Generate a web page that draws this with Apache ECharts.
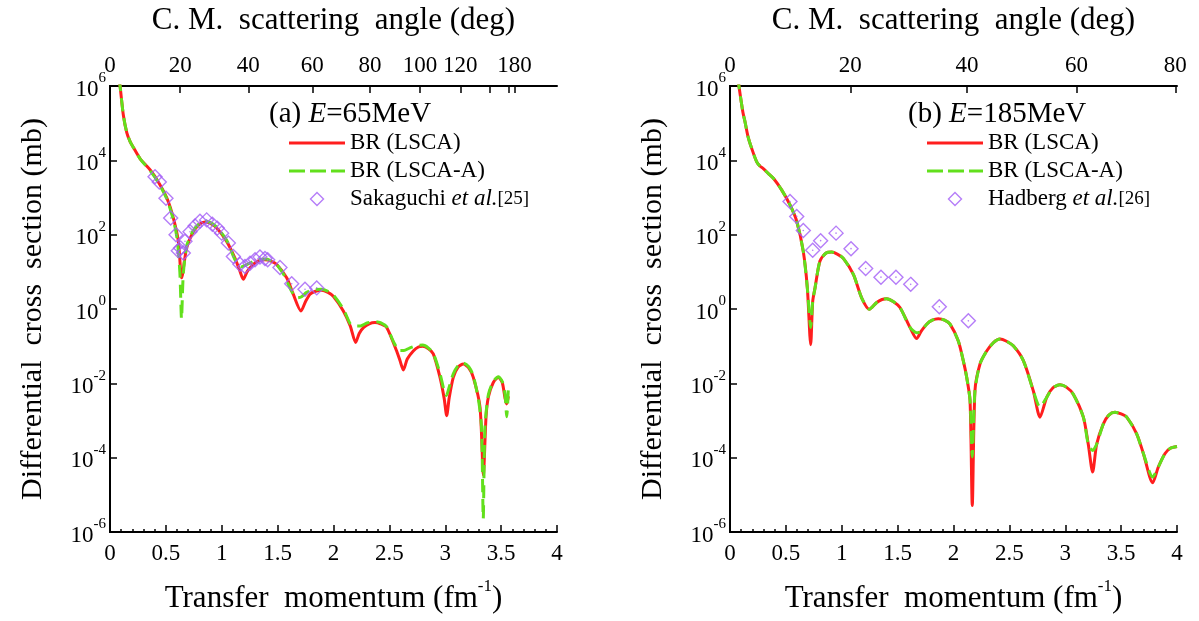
<!DOCTYPE html>
<html>
<head>
<meta charset="utf-8">
<script src="https://cdn.jsdelivr.net/npm/echarts@6/dist/echarts.min.js"></script>
<style>
  html, body { margin: 0; padding: 0; background: #fff; }
  #chart { width: 1199px; height: 621px; }
</style>
</head>
<body>
<div id="chart"></div>
<script>
// (a) 65 MeV -- transfer momentum (fm^-1) and cross section (mb)
var qLscaA = [0.08, 0.09, 0.12, 0.15, 0.18, 0.21, 0.27, 0.36, 0.43, 0.51, 0.567, 0.612, 0.641, 0.686, 0.746, 0.80, 0.85, 0.90, 0.955, 1.044, 1.119, 1.16, 1.193, 1.23, 1.283, 1.33, 1.387, 1.44, 1.49, 1.581, 1.64, 1.709, 1.75, 1.79, 1.84, 1.894, 1.95, 1.998, 2.088, 2.15, 2.198, 2.23, 2.27, 2.32, 2.371, 2.42, 2.476, 2.565, 2.595, 2.625, 2.66, 2.714, 2.76, 2.798, 2.85, 2.893, 2.953, 2.99, 3.013, 3.035, 3.072, 3.115, 3.162, 3.21, 3.251, 3.311, 3.341, 3.365, 3.386, 3.43, 3.475, 3.51, 3.535, 3.55, 3.565];
var lscaA = [1.6e6, 1.0e6, 1.6e5, 5.6e4, 3.2e4, 2.2e4, 1.1e4, 5.5e3, 2.7e3, 9.5e2, 2.8e2, 66, 6.9, 44, 1.2e2, 1.9e2, 2.2e2, 2.0e2, 1.5e2, 66, 23, 11, 6.3, 10.5, 16, 20, 21, 19.5, 16, 6.9, 2.5, 0.89, 1.6, 2.5, 3.0, 3.2, 2.8, 2.2, 0.89, 0.35, 0.126, 0.22, 0.32, 0.40, 0.43, 0.40, 0.32, 0.074, 0.041, 0.023, 0.045, 0.074, 0.095, 0.10, 0.085, 0.062, 0.0145, 0.004, 0.00135, 0.004, 0.0145, 0.0275, 0.033, 0.026, 0.0145, 0.0023, 3.4e-5, 0.00126, 0.0043, 0.0105, 0.0145, 0.0105, 0.004, 0.0028, 0.0045];

var qLscaAA = [0.08, 0.09, 0.12, 0.15, 0.18, 0.21, 0.27, 0.36, 0.43, 0.51, 0.567, 0.60, 0.625, 0.64, 0.655, 0.686, 0.746, 0.80, 0.85, 0.90, 0.955, 1.044, 1.10, 1.14, 1.17, 1.21, 1.283, 1.33, 1.387, 1.44, 1.49, 1.56, 1.62, 1.67, 1.71, 1.76, 1.82, 1.894, 1.95, 1.998, 2.088, 2.15, 2.19, 2.24, 2.30, 2.371, 2.42, 2.476, 2.54, 2.59, 2.63, 2.68, 2.75, 2.798, 2.85, 2.893, 2.95, 2.99, 3.01, 3.035, 3.072, 3.115, 3.162, 3.21, 3.251, 3.30, 3.325, 3.34, 3.355, 3.386, 3.43, 3.475, 3.51, 3.535, 3.55, 3.565];
var lscaAA = [1.6e6, 1.0e6, 1.6e5, 5.6e4, 3.2e4, 2.2e4, 1.1e4, 5.2e3, 2.6e3, 8.9e2, 2.5e2, 79, 10, 0.54, 7.9, 50, 1.3e2, 2.0e2, 2.3e2, 2.1e2, 1.6e2, 71, 28, 16, 13.5, 15, 19, 21, 22, 20, 16, 7.9, 3.2, 2.0, 2.1, 2.8, 3.3, 3.4, 3.0, 2.4, 1.0, 0.40, 0.35, 0.35, 0.42, 0.46, 0.43, 0.33, 0.126, 0.076, 0.076, 0.089, 0.105, 0.107, 0.089, 0.063, 0.02, 0.0063, 0.0047, 0.0079, 0.018, 0.030, 0.035, 0.028, 0.016, 0.0032, 6.3e-4, 2.3e-6, 6.3e-4, 0.005, 0.0112, 0.015, 0.0112, 0.005, 0.00126, 0.0079];

var qSakaguchi = [0.403, 0.441, 0.501, 0.543, 0.591, 0.611, 0.632, 0.656, 0.671, 0.716, 0.761, 0.805, 0.865, 0.916, 0.96, 0.999, 1.059, 1.104, 1.163, 1.208, 1.253, 1.298, 1.342, 1.387, 1.411, 1.521, 1.626, 1.745, 1.85];
var sakaguchi = [3.6e3, 2.6e3, 9.5e2, 2.8e2, 1.0e2, 37, 44, 32, 66, 1.2e2, 1.7e2, 2.3e2, 2.5e2, 1.9e2, 1.5e2, 1.1e2, 60, 26, 16, 14, 17, 21, 25, 23, 21, 13, 4.8, 3.4, 3.7];

// (b) 185 MeV
var qB = [0.07, 0.08, 0.115, 0.134, 0.16, 0.194, 0.239, 0.27, 0.298, 0.34, 0.388, 0.462, 0.537, 0.597, 0.656, 0.692, 0.722, 0.74, 0.761, 0.805, 0.86, 0.91, 0.96, 1.014, 1.104, 1.178, 1.247, 1.313, 1.36, 1.402, 1.46, 1.521, 1.611, 1.67, 1.71, 1.76, 1.81, 1.864, 1.92, 1.969, 2.043, 2.088, 2.118, 2.148, 2.168, 2.192, 2.237, 2.297, 2.36, 2.416, 2.47, 2.535, 2.625, 2.714, 2.774, 2.834, 2.89, 2.953, 3.01, 3.072, 3.162, 3.206, 3.245, 3.281, 3.341, 3.39, 3.445, 3.50, 3.55, 3.639, 3.699, 3.782, 3.833, 3.893, 3.94, 4.0];
var lscaB = [1.8e6, 1.0e6, 2.0e5, 1.1e5, 4.5e4, 2.1e4, 9.1e3, 6.9e3, 6.0e3, 4.5e3, 3.3e3, 1.6e3, 6.3e2, 2.3e2, 35, 3.7, 0.11, 1.6, 3.7, 19.5, 32, 34, 30, 23, 8.5, 2.0, 0.98, 1.5, 1.8, 1.9, 1.6, 1.1, 0.32, 0.16, 0.25, 0.39, 0.50, 0.55, 0.50, 0.39, 0.138, 0.04, 0.0145, 0.0035, 5.2e-6, 0.0063, 0.033, 0.074, 0.126, 0.155, 0.138, 0.102, 0.041, 0.0063, 0.00123, 0.0042, 0.0076, 0.0091, 0.0079, 0.0051, 0.00123, 2.3e-4, 4.1e-5, 2.3e-4, 8.1e-4, 0.0014, 0.00166, 0.0015, 0.00123, 4.4e-4, 1.3e-4, 2.1e-5, 5.6e-5, 1.3e-4, 1.8e-4, 2.0e-4];
var lscaAB = [1.8e6, 1.0e6, 2.0e5, 1.1e5, 4.5e4, 2.1e4, 9.1e3, 6.9e3, 6.0e3, 4.5e3, 3.3e3, 1.6e3, 6.3e2, 2.3e2, 35, 3.7, 0.32, 1.6, 3.7, 19.5, 32, 34, 30, 23, 8.5, 2.0, 0.98, 1.5, 1.8, 1.9, 1.6, 1.1, 0.32, 0.23, 0.25, 0.39, 0.50, 0.55, 0.50, 0.39, 0.138, 0.04, 0.0145, 0.0035, 1.05e-4, 0.0063, 0.033, 0.074, 0.126, 0.155, 0.138, 0.102, 0.041, 0.0063, 0.0023, 0.0042, 0.0076, 0.0091, 0.0079, 0.0051, 0.00123, 2.3e-4, 1.55e-4, 2.3e-4, 8.1e-4, 0.0014, 0.00166, 0.0015, 0.00123, 4.4e-4, 1.3e-4, 3.0e-5, 5.6e-5, 1.3e-4, 1.8e-4, 2.0e-4];

var qHadberg = [0.537, 0.597, 0.656, 0.740, 0.811, 0.949, 1.083, 1.214, 1.351, 1.485, 1.617, 1.873, 2.133];
var hadberg = [7.8e2, 3.1e2, 1.3e2, 38, 69, 1.1e2, 42, 12.3, 7.2, 7.2, 4.6, 1.15, 0.48];

// top axis: c.m. angle, q = 2k sin(theta/2)
var angleTicksA = [0, 20, 40, 60, 80, 100, 120, 140, 160, 180];
var angleLabelsA = [0, 20, 40, 60, 80, 100, 120, 180];
var angleTicksB = [0, 20, 40, 60, 80];
var kA = 1.81, kB = 3.1;

var FONT = "Liberation Serif";
var RED = "#ff1e1e", GREEN = "#62e01c", PURPLE = "#a25cf6";
// legend samples: solid bar, three dashes, open diamond
var ICON_SOLID = "path://M0,0h56v3h-56z";
var ICON_DASH = "path://M0,0h16v3h-16zM21,0h16v3h-16zM42,0h14v3h-14z";
var ICON_DIAMOND = "path://M7,0L14,7L7,14L0,7Z";

function zip(xs, ys) { return xs.map(function (x, i) { return [x, ys[i]]; }); }
function qOf(deg, k) { return 2 * k * Math.sin(deg * Math.PI / 360); }
function degOf(q, k) { return Math.round(2 * Math.asin(Math.min(1, q / (2 * k))) * 180 / Math.PI); }

function bottomAxis(grid) {
  return {
    type: "value", gridIndex: grid, position: "bottom", min: 0, max: 4, interval: 0.5,
    axisLine: { lineStyle: { color: "#000", width: 2 } },
    axisTick: { inside: true, length: 7, lineStyle: { color: "#000", width: 1.5 } },
    minorTick: { show: true, splitNumber: 5, length: 3, lineStyle: { color: "#000", width: 1.5 } },
    splitLine: { show: false },
    axisLabel: { margin: 10, color: "#000", fontFamily: FONT, fontSize: 23 },
    name: "{t|Transfer  momentum (fm}{s|-1}{t|)}",
    nameLocation: "middle", nameGap: 46,
    nameTextStyle: {
      rich: {
        t: { fontFamily: FONT, fontSize: 31, color: "#000", lineHeight: 36, verticalAlign: "bottom" },
        s: { fontFamily: FONT, fontSize: 17, color: "#000", lineHeight: 36, verticalAlign: "top" }
      }
    }
  };
}

function topAxis(grid, k, ticks, labels) {
  return {
    type: "value", gridIndex: grid, position: "top", min: 0, max: 4,
    axisLine: { lineStyle: { color: "#000", width: 2 } },
    axisTick: { inside: true, length: 7, customValues: ticks.map(function (d) { return qOf(d, k); }), lineStyle: { color: "#000", width: 1.5 } },
    splitLine: { show: false },
    axisLabel: {
      margin: 9, color: "#000", fontFamily: FONT, fontSize: 23,
      customValues: labels.map(function (d) { return qOf(d, k); }),
      formatter: function (v) { return String(degOf(v, k)); }
    },
    name: "C. M.  scattering  angle (deg)",
    nameLocation: "middle", nameGap: 50,
    nameTextStyle: { fontFamily: FONT, fontSize: 31, color: "#000" }
  };
}

function leftAxis(grid) {
  return {
    type: "log", gridIndex: grid, position: "left", logBase: 10, min: 1e-6, max: 1e6, interval: 2,
    axisLine: { lineStyle: { color: "#000", width: 2 } },
    axisTick: { inside: true, length: 7, lineStyle: { color: "#000", width: 1.5 } },
    splitLine: { show: false },
    axisLabel: {
      margin: 4,
      formatter: function (v) { return "{b|10}{s|" + Math.round(Math.log10(v)) + "}"; },
      rich: {
        b: { fontFamily: FONT, fontSize: 23, color: "#000", lineHeight: 30, verticalAlign: "bottom" },
        s: { fontFamily: FONT, fontSize: 15, color: "#000", lineHeight: 30, verticalAlign: "top" }
      }
    },
    name: "Differential  cross  section (mb)",
    nameLocation: "middle", nameGap: 62,
    nameTextStyle: { fontFamily: FONT, fontSize: 30, color: "#000" }
  };
}

function rightAxis(grid) {
  return {
    type: "log", gridIndex: grid, position: "right", logBase: 10, min: 1e-6, max: 1e6,
    axisLine: { lineStyle: { color: "#000", width: 2 } },
    axisTick: { show: false }, axisLabel: { show: false }, splitLine: { show: false }
  };
}

function lineSeries(name, data, xi, yi, color, dashed) {
  return {
    name: name, type: "line", xAxisIndex: xi, yAxisIndex: yi, data: data,
    symbol: "none", smooth: 0.25, clip: true, animation: false,
    lineStyle: { color: color, width: 3, type: dashed ? [13, 7] : "solid" },
    itemStyle: { color: color },
    z: dashed ? 3 : 2
  };
}

function dataSeries(name, data, xi, yi) {
  return [{
    name: name, type: "scatter", xAxisIndex: xi, yAxisIndex: yi, data: data,
    symbol: "diamond", symbolSize: 14, animation: false,
    itemStyle: { color: "rgba(0,0,0,0)", borderColor: PURPLE, borderWidth: 1.4 },
    z: 4
  }, {
    type: "scatter", xAxisIndex: xi, yAxisIndex: yi, data: data,
    symbol: "circle", symbolSize: 1.6, animation: false, silent: true,
    itemStyle: { color: PURPLE }, z: 4
  }];
}

function legendFor(left, expName, expRef) {
  return {
    orient: "vertical", left: left, top: 126, itemWidth: 56, itemHeight: 13, itemGap: 4,
    selectedMode: false, symbolKeepAspect: true,
    data: [
      { name: "BR (LSCA)", icon: ICON_SOLID, itemStyle: { color: RED } },
      { name: "BR (LSCA-A)", icon: ICON_DASH, itemStyle: { color: GREEN } },
      { name: expName, icon: ICON_DIAMOND, itemStyle: { color: "rgba(0,0,0,0)", borderColor: PURPLE, borderWidth: 1.4 } }
    ],
    textStyle: {
      fontFamily: FONT, fontSize: 23, color: "#000", lineHeight: 24,
      rich: {
        n: { fontFamily: FONT, fontSize: 23, color: "#000" },
        i: { fontFamily: FONT, fontSize: 23, color: "#000", fontStyle: "italic" },
        r: { fontFamily: FONT, fontSize: 19, color: "#000" }
      }
    },
    formatter: function (name) {
      if (name === expName) return "{n|" + name.split(" et al.")[0] + " }{i|et al.}{r|" + expRef + "}";
      return "{n|" + name + "}";
    }
  };
}

function panelTitle(left, tag, energy) {
  return {
    left: left, top: 95,
    text: "{n|" + tag + " }{i|E}{n|=" + energy + "}",
    textStyle: {
      fontWeight: "normal",
      rich: {
        n: { fontFamily: FONT, fontSize: 29, color: "#000", fontWeight: "normal" },
        i: { fontFamily: FONT, fontSize: 29, color: "#000", fontStyle: "italic", fontWeight: "normal" }
      }
    }
  };
}

var chart = echarts.init(document.getElementById("chart"), null, { renderer: "canvas" });

var option = {
  backgroundColor: "#fff",
  animation: false,
  title: [panelTitle(264, "(a)", "65MeV"), panelTitle(903, "(b)", "185MeV")],
  legend: [
    legendFor(284, "Sakaguchi et al. [25]", "[25]"),
    legendFor(922, "Hadberg et al. [26]", "[26]")
  ],
  grid: [
    { left: 110, top: 84, width: 447, height: 448 },
    { left: 730, top: 84, width: 447, height: 448 }
  ],
  xAxis: [
    bottomAxis(0), topAxis(0, kA, angleTicksA, angleLabelsA),
    bottomAxis(1), topAxis(1, kB, angleTicksB, angleTicksB)
  ],
  yAxis: [leftAxis(0), rightAxis(0), leftAxis(1), rightAxis(1)],
  series: [
    lineSeries("BR (LSCA)", zip(qLscaA, lscaA), 0, 0, RED, false),
    lineSeries("BR (LSCA-A)", zip(qLscaAA, lscaAA), 0, 0, GREEN, true)
  ].concat(dataSeries("Sakaguchi et al. [25]", zip(qSakaguchi, sakaguchi), 0, 0))
   .concat([
    lineSeries("BR (LSCA)", zip(qB, lscaB), 2, 2, RED, false),
    lineSeries("BR (LSCA-A)", zip(qB, lscaAB), 2, 2, GREEN, true)
  ]).concat(dataSeries("Hadberg et al. [26]", zip(qHadberg, hadberg), 2, 2))
};

chart.setOption(option);
</script>
</body>
</html>
